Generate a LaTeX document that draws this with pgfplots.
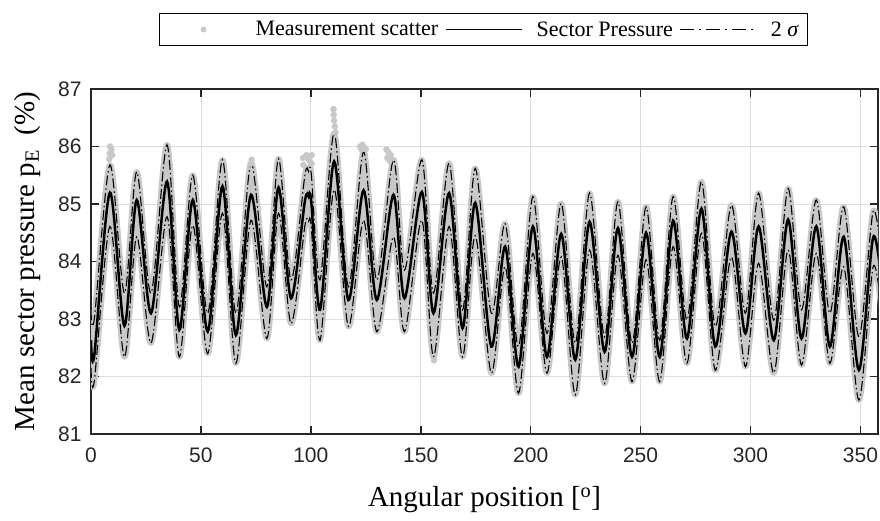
\documentclass[border=0pt]{standalone}
\usepackage{fontspec}
\setmainfont{Liberation Serif}
\newfontfamily\arialfont{Liberation Sans}
\usepackage{pgfplots}
\usepackage{pgfplotstable}
\pgfplotsset{compat=1.18}
\usepgfplotslibrary{fillbetween}
\definecolor{scat}{RGB}{200,200,200}
\definecolor{axgray}{RGB}{38,38,38}
\definecolor{gridgray}{RGB}{222,222,222}

% x = angular position, m = sector pressure, u/l = +/- 2 sigma
\pgfplotstableread{
x      m      u      l
0      82.63  83.15  82.15
1.5    82.37  83.00  81.92
8.6    85.20  85.68  84.61
15.2   82.88  83.45  82.34
20.8   85.07  85.56  84.43
27.3   83.10  83.45  82.58
34.6   85.39  86.03  84.78
40.2   82.81  83.21  82.34
46.3   85.07  85.50  84.63
53.1   82.78  83.10  82.40
59.8   85.31  85.77  84.84
65.9   82.72  83.10  82.23
72.8   85.16  85.71  84.72
80.0   83.21  83.56  82.66
85.3   85.29  85.79  84.84
91.0   83.36  83.68  82.92
97.3   85.05  85.50  84.62
99.0   85.13  85.56  84.70
100.2  85.04  85.52  84.60
104.2  83.16  83.68  82.63
110.6  85.74  86.23  85.25
117.1  83.33  83.56  82.87
124.0  85.24  85.91  84.72
130.0  83.33  83.68  82.78
137.6  85.16  85.77  84.43
142.6  83.36  83.85  82.78
150.5  85.21  85.77  84.72
155.8  83.10  83.45  82.34
162.9  85.19  85.71  84.61
169.0  82.84  83.16  82.34
174.8  85.02  85.62  84.45
182.1  82.52  83.10  82.06
188.4  84.26  84.66  83.91
194.5  82.17  82.52  81.71
201.0  84.61  85.13  84.14
207.4  82.34  82.75  82.06
213.9  84.48  85.01  84.08
220.3  82.29  82.58  81.68
226.8  84.69  85.19  84.20
233.6  82.43  82.69  81.88
239.7  84.58  85.04  84.11
246.1  82.34  82.58  81.91
252.5  84.50  84.95  84.03
258.7  82.34  82.63  81.91
264.8  84.71  85.13  84.26
271.1  82.66  82.98  82.23
277.7  84.92  85.39  84.49
284.0  82.52  82.87  82.11
291.3  84.52  84.98  84.08
297.7  82.75  83.10  82.17
303.7  84.61  85.19  83.97
310.6  82.63  82.98  82.06
317.1  84.73  85.27  84.20
323.2  82.66  83.16  82.20
329.9  84.61  85.07  84.14
336.1  82.52  83.10  82.23
342.4  84.43  84.95  83.91
349.3  82.11  82.69  81.59
355.8  84.42  84.87  83.91
360.0  83.50  83.95  83.00
}\sectordata

% measurement points lying outside the band
\pgfplotstableread{
x      y
8.3    85.78
8.5    85.88
8.7    86.00
9.3    85.95
9.6    85.85
72.6   85.70
73.1   85.77
96.6   85.68
96.5   85.80
98.0   85.85
99.0   85.78
99.5   85.75
100.4  85.85
100.4  85.70
110.3  86.65
110.4  86.55
110.6  86.45
110.9  86.35
111.2  86.25
122.4  86.00
123.0  85.95
123.5  86.03
124.3  85.98
125.0  85.95
134.4  85.95
134.8  85.80
135.3  85.90
135.8  85.75
136.3  85.85
156.0  82.28
}\outliers

\begin{document}
\begin{tikzpicture}
\begin{axis}[name=ax, scale only axis, width=787pt, height=345pt,
  xmin=0, xmax=358, ymin=81, ymax=87,
  xtick={0,50,...,350}, ytick={81,82,...,87},
  grid=major, major grid style={gridgray, line width=0.8pt},
  axis line style={axgray, line width=1.5pt},
  tick style={axgray, line width=1.5pt},
  major tick length=8pt, tick align=inside,
  ticklabel style={font=\arialfont\fontsize{21}{21}\selectfont, text=axgray},
  /pgf/number format/assume math mode=true,
  xticklabel style={yshift=-10pt}, yticklabel style={xshift=-6pt},
  xlabel={Angular position [\textsuperscript{o}]},
  ylabel={Mean sector pressure p\textsubscript{E}~ (\%)},
  label style={font=\fontsize{29}{31}\selectfont},
  xlabel style={at={(axis description cs:0.5,-0.19)}, anchor=center},
  ylabel style={at={(axis description cs:-0.081,0.5)}, anchor=center},
  legend columns=3,
  legend style={at={(axis description cs:0.4985,1.1725)}, anchor=center,
    draw=black, line width=1pt, font=\fontsize{22}{24}\selectfont,
    inner xsep=6pt, inner ysep=6pt,
    /tikz/every even column/.append style={column sep=5pt},
    /tikz/every odd column/.append style={column sep=12pt}},
]
\addplot[draw=scat, line width=6pt, smooth, line join=round, name path=U, forget plot] table[x=x, y=u]{\sectordata};
\addplot[draw=scat, line width=6pt, smooth, line join=round, name path=L, forget plot] table[x=x, y=l]{\sectordata};
\addplot[scat, forget plot] fill between[of=U and L];
\addplot[only marks, mark=*, mark size=3pt, scat, forget plot] table[x=x, y=y]{\outliers};
\addplot[black, line width=1.1pt, smooth, dash pattern=on 10pt off 3pt on 1.5pt off 3pt, forget plot] table[x=x, y=u]{\sectordata};
\addplot[black, line width=1.1pt, smooth, dash pattern=on 10pt off 3pt on 1.5pt off 3pt, forget plot] table[x=x, y=l]{\sectordata};
\addplot[black, line width=2.5pt, smooth, forget plot] table[x=x, y=m]{\sectordata};

\addlegendimage{legend image code/.code={\fill[scat, draw=none] (38pt,0pt) circle (3pt); \path[draw=none] (0pt,0pt) -- (76pt,0pt);}}
\addlegendentry{Measurement scatter}
\addlegendimage{legend image code/.code={\draw[black, line width=1.5pt] (0pt,0pt) -- (76pt,0pt);}}
\addlegendentry{Sector Pressure}
\addlegendimage{legend image code/.code={\draw[black, line width=1pt, dash pattern=on 14pt off 5pt on 2pt off 5pt] (0pt,0pt) -- (76pt,0pt);}}
\addlegendentry{2 \textit{σ}}
\end{axis}
\pgfresetboundingbox
\path[use as bounding box] ([xshift=-91pt,yshift=-87pt]ax.south west) rectangle ([xshift=2pt,yshift=89pt]ax.north east);
\end{tikzpicture}
\end{document}
